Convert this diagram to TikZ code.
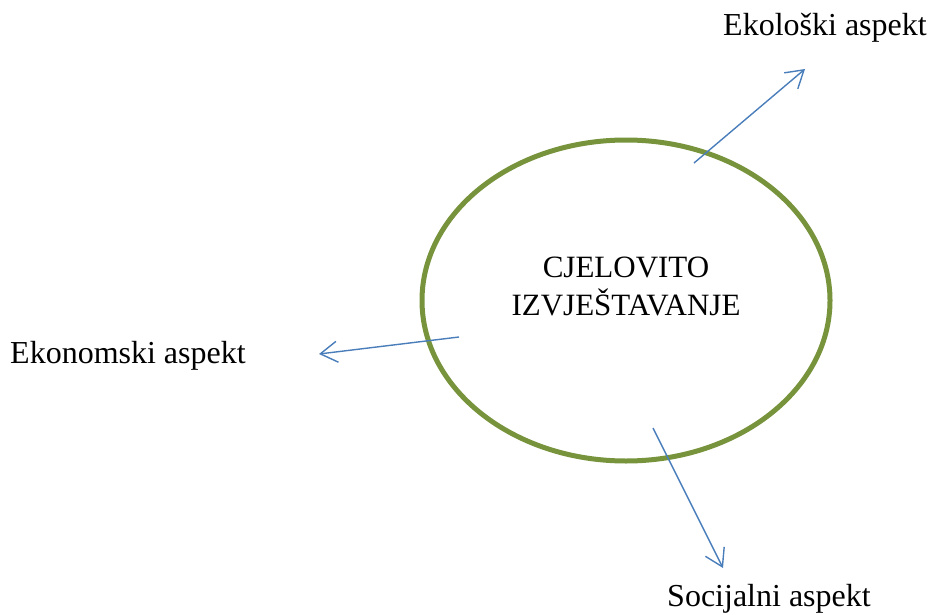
\documentclass[tikz,border=0pt]{standalone}
\usepackage{fontspec}
\setmainfont{Liberation Serif}
\usetikzlibrary{shapes.geometric,arrows.meta}
\definecolor{ringgreen}{HTML}{77933C}
\definecolor{arrowblue}{HTML}{4A7EBB}
\begin{document}
\begin{tikzpicture}[x=1pt,y=-1pt,
  ring/.style={ellipse, draw=ringgreen, line width=5pt, minimum width=408pt, minimum height=321pt, inner sep=0pt},
  label/.style={font=\fontsize{32}{38}\selectfont, inner sep=0pt},
  conn/.style={draw=arrowblue, line width=1.4pt, -{Straight Barb[length=17pt,width=21pt,line width=1.4pt]}}]
\useasboundingbox (0,0) rectangle (928,615);
\node[ring] (c) at (626,300.5) {};
\node[label, font=\fontsize{31}{38}\selectfont, align=center] (t) at (626,286) {CJELOVITO\\IZVJEŠTAVANJE};
\node[label, anchor=base west] (eko) at (723,36) {Ekološki aspekt};
\node[label, anchor=base west] (ekon) at (10,363) {Ekonomski aspekt};
\node[label, anchor=base west] (soc) at (667,606) {Socijalni aspekt};
\coordinate (s1) at (694,163);
\coordinate (e1) at (805,69);
\coordinate (s2) at (459,337);
\coordinate (e2) at (319,354);
\coordinate (s3) at (653,428);
\coordinate (e3) at (723,568);
\draw[conn] (s1) -- (e1);
\draw[conn] (s2) -- (e2);
\draw[conn] (s3) -- (e3);
\end{tikzpicture}
\end{document}
